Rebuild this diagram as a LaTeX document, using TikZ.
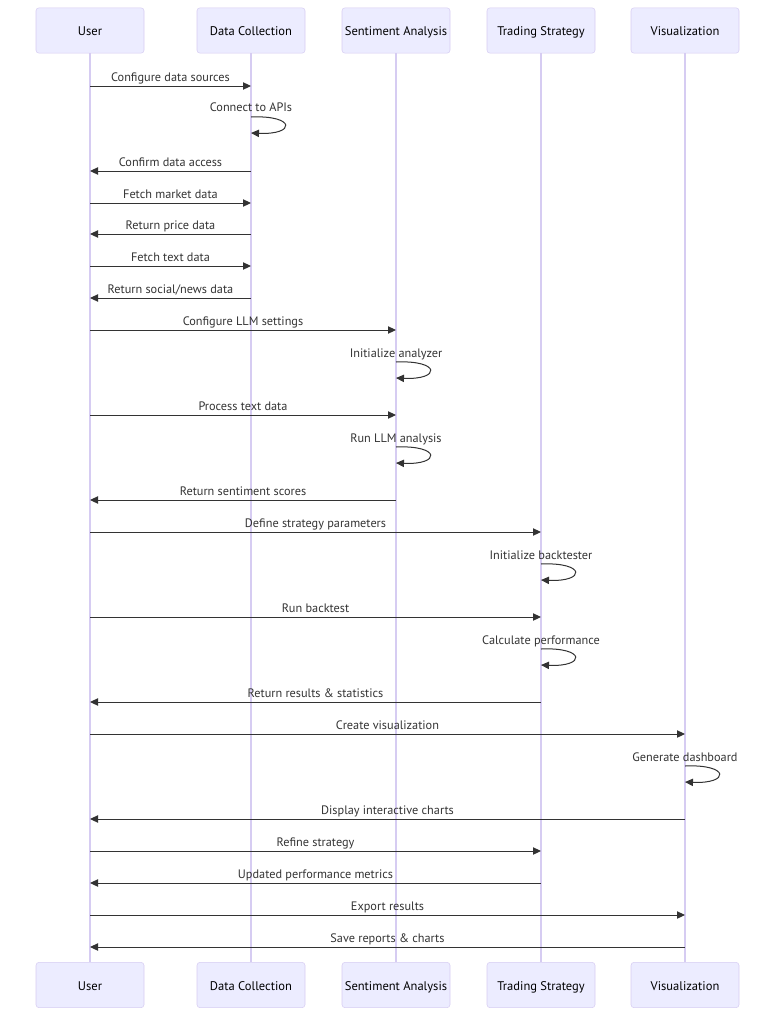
\documentclass[tikz,border=0pt]{standalone}
\usepackage{fontspec}
\setmainfont{PT Sans}
\usetikzlibrary{arrows.meta}
\definecolor{actorfill}{HTML}{ECECFF}
\definecolor{actorline}{HTML}{D6CCF2}
\definecolor{signal}{HTML}{333333}
\tikzset{
  actor/.style={draw=actorline,fill=actorfill,rounded corners=2.25pt,minimum width=81pt,minimum height=34pt,inner sep=0pt,text height=9.5pt,text depth=1.8pt,font=\fontsize{9.4}{11}\selectfont},
  lifeline/.style={draw=actorline,line width=0.8pt},
  msg/.style={draw=signal,line width=0.75pt,-{Triangle[length=6pt,width=5.5pt]}},
  lbl/.style={font=\fontsize{9.2}{10}\selectfont,text=signal,inner sep=0pt,text height=6.4pt,text depth=1.8pt},
}

\begin{document}
\begin{tikzpicture}[x=0.75pt,y=-0.75pt]
                \useasboundingbox(0,0)rectangle(784,1028);
                % participants, top and bottom
                \node[actor](userTop)at(90, 30.5){User};
                \node[actor](dataTop)at(251, 30.5){Data Collection};
                \node[actor](sentTop)at(396, 30.5){Sentiment Analysis};
                \node[actor](tradeTop)at(541, 30.5){Trading Strategy};
                \node[actor](visTop)at(685, 30.5){Visualization};
                \node[actor](userBot)at(90, 985){User};
                \node[actor](dataBot)at(251, 985){Data Collection};
                \node[actor](sentBot)at(396, 985){Sentiment Analysis};
                \node[actor](tradeBot)at(541, 985){Trading Strategy};
                \node[actor](visBot)at(685, 985){Visualization};
                % lifelines
                \path[lifeline](userTop) edge (userBot)
                (dataTop) edge (dataBot)
                (sentTop) edge (sentBot)
                (tradeTop) edge (tradeBot)
                (visTop) edge (visBot);
                % message rows on every lifeline
                \foreach \i/\y in {1/86,2/117,3/171,4/203,5/234,6/266,7/298,8/330,9/362,10/415,11/447,12/500,
                  13/532,14/564,15/617,16/649,17/702,18/734,19/766,20/819,21/851,22/883,23/915,24/947}{
                  \coordinate(u\i)at(90,\y);
                  \coordinate(d\i)at(251,\y);
                  \coordinate(s\i)at(396,\y);
                  \coordinate(t\i)at(541,\y);
                  \coordinate(v\i)at(685,\y);
                }
                % ends of the self calls
                \coordinate(d2e)at(251,133);
                \coordinate(s9e)at(396,378);
                \coordinate(s11e)at(396,463);
                \coordinate(t14e)at(541,580);
                \coordinate(t16e)at(541,665);
                \coordinate(v19e)at(685,782);
                % messages
                \path(u1) edge[msg] node[lbl,above=1pt]{Configure data sources} (d1)
                (d3) edge[msg] node[lbl,above=1pt]{Confirm data access} (u3)
                (u4) edge[msg] node[lbl,above=1pt]{Fetch market data} (d4)
                (d5) edge[msg] node[lbl,above=1pt]{Return price data} (u5)
                (u6) edge[msg] node[lbl,above=1pt]{Fetch text data} (d6)
                (d7) edge[msg] node[lbl,above=1pt]{Return social/news data} (u7)
                (u8) edge[msg] node[lbl,above=1pt]{Configure LLM settings} (s8)
                (u10) edge[msg] node[lbl,above=1pt]{Process text data} (s10)
                (s12) edge[msg] node[lbl,above=1pt]{Return sentiment scores} (u12)
                (u13) edge[msg] node[lbl,above=1pt]{Define strategy parameters} (t13)
                (u15) edge[msg] node[lbl,above=1pt]{Run backtest} (t15)
                (t17) edge[msg] node[lbl,above=1pt]{Return results \& statistics} (u17)
                (u18) edge[msg] node[lbl,above=1pt]{Create visualization} (v18)
                (v20) edge[msg] node[lbl,above=1pt]{Display interactive charts} (u20)
                (u21) edge[msg] node[lbl,above=1pt]{Refine strategy} (t21)
                (t22) edge[msg] node[lbl,above=1pt]{Updated performance metrics} (u22)
                (u23) edge[msg] node[lbl,above=1pt]{Export results} (v23)
                (v24) edge[msg] node[lbl,above=1pt]{Save reports \& charts} (u24);
                % self calls
                \draw[msg](d2) .. controls +(45,-2) and +(45,2) .. (d2e);
                \draw[msg](s9) .. controls +(45,-2) and +(45,2) .. (s9e);
                \draw[msg](s11) .. controls +(45,-2) and +(45,2) .. (s11e);
                \draw[msg](t14) .. controls +(45,-2) and +(45,2) .. (t14e);
                \draw[msg](t16) .. controls +(45,-2) and +(45,2) .. (t16e);
                \draw[msg](v19) .. controls +(45,-2) and +(45,2) .. (v19e);
                \node[lbl](connect)at(251, 108){Connect to APIs};
                \node[lbl](initAn)at(396, 354){Initialize analyzer};
                \node[lbl](runLLM)at(396, 439){Run LLM analysis};
                \node[lbl](initBt)at(541, 556){Initialize backtester};
                \node[lbl](calcPerf)at(541, 641){Calculate performance};
                \node[lbl](genDash)at(685, 758){Generate dashboard};
            \end{tikzpicture}
\end{document}
